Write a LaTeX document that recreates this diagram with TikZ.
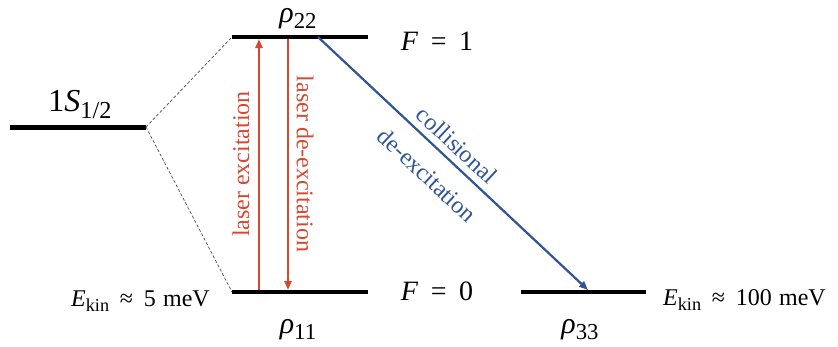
\documentclass[tikz,border=0pt]{standalone}
\usepackage{graphicx}
\usepackage{fontspec}
\setmainfont{Liberation Serif}
\usetikzlibrary{arrows.meta}
\definecolor{lred}{RGB}{214,72,50}
\definecolor{cblue}{RGB}{47,85,151}
\newcommand{\lsub}[1]{\raisebox{-0.22em}{\scalebox{0.76}{#1}}}
\newcommand{\lsp}{\hspace{0.45em}}
\begin{document}
\begin{tikzpicture}[x=1pt,y=-1pt,
  level/.style={line width=4pt},
  guide/.style={dashed,dash pattern=on 3pt off 2pt,line width=0.7pt,black!70},
  laser/.style={lred,line width=2.4pt,-{Triangle[length=9pt,width=7pt]}},
  coll/.style={cblue,line width=2.2pt,-{Triangle[length=9pt,width=7pt]}},
  rholbl/.style={font=\fontsize{30}{34}\selectfont,inner sep=0pt,anchor=base},
  flbl/.style={font=\fontsize{28}{32}\selectfont,inner sep=0pt,anchor=base},
  slbl/.style={font=\fontsize{32}{36}\selectfont,inner sep=0pt,anchor=base},
  ekin/.style={font=\fontsize{24}{28}\selectfont,inner sep=0pt},
  redlbl/.style={lred,font=\fontsize{24}{28}\selectfont,inner sep=0pt},
  bluelbl/.style={cblue,font=\fontsize{24}{28}\selectfont,inner sep=0pt}]
\useasboundingbox (0,0) rectangle (838,346);
% levels
\coordinate (sL) at (10,127);  \coordinate (sR) at (146,127);
\coordinate (uL) at (232,37);  \coordinate (uR) at (368,37);
\coordinate (lL) at (232,292); \coordinate (lR) at (368,292);
\coordinate (rL) at (521,292); \coordinate (rR) at (646,292);
\draw[level,line width=5pt] (sL) -- (sR);
\draw[level] (uL) -- (uR);
\draw[level] (lL) -- (lR);
\draw[level] (rL) -- (rR);
% guides
\draw[guide] (sR) -- (uL);
\draw[guide] (sR) -- (lL);
% laser arrows
\coordinate (exB) at (259,290); \coordinate (exT) at (259,39);
\coordinate (deT) at (288,39);  \coordinate (deB) at (288,290);
\draw[laser] (exB) -- (exT);
\draw[laser] (deT) -- (deB);
% collisional arrow
\coordinate (cS) at (318,37); \coordinate (cE) at (588,290);
\draw[coll] (cS) -- (cE);
% labels
\node[rholbl] (r22) at (298,22) {\textit{ρ}\lsub{22}};
\node[rholbl] (r11) at (298,333) {\textit{ρ}\lsub{11}};
\node[rholbl] (r33) at (580,333) {\textit{ρ}\lsub{33}};
\node[flbl] (F1) at (437,50) {\textit{F}\lsp=\lsp1};
\node[flbl] (F0) at (437,300) {\textit{F}\lsp=\lsp0};
\node[slbl] (S) at (80,111) {1\textit{S}\lsub{1/2}};
\node[ekin,anchor=base east] (ek1) at (210,306) {\textit{E}\lsub{kin}\lsp≈\lsp5\hspace{0.3em}meV};
\node[ekin,anchor=base west] (ek2) at (663,305) {\textit{E}\lsub{kin}\lsp≈\lsp100\hspace{0.3em}meV};
\node[redlbl,rotate=90] (lex) at (241,164) {laser excitation};
\node[redlbl,rotate=-90] (ldx) at (305,164) {laser de-excitation};
\node[bluelbl,rotate=-43] (cl) at (457,145) {collisional};
\node[bluelbl,rotate=-43] (cd) at (427,175) {de-excitation};
\end{tikzpicture}
\end{document}
